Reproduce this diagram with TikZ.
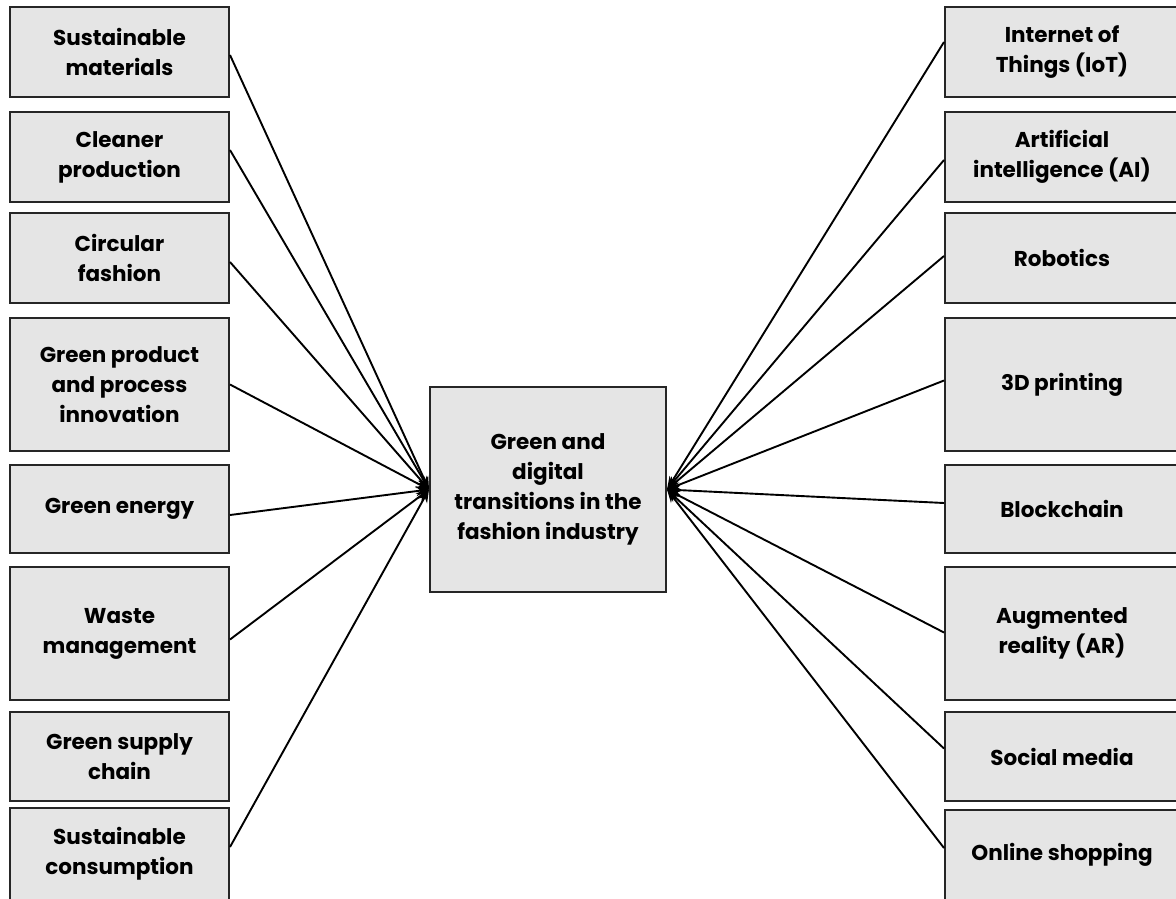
\documentclass[tikz,border=0pt]{standalone}
\usepackage{fontspec}
\setmainfont{Poppins}
\usetikzlibrary{arrows.meta}
\tikzset{
  box/.style={draw=black!85, line width=2pt, fill=black!10, align=center,
    font=\fontsize{21.5}{30}\selectfont\bfseries, inner sep=2pt},
  link/.style={line width=1.9pt, -{Stealth[length=13pt,width=10pt]}},
}
\begin{document}
\begin{tikzpicture}[x=1pt,y=-1pt]
\useasboundingbox (0,0) rectangle (1176,898);
\clip (0,0) rectangle (1176,898);
\fill[white] (0,0) rectangle (1176,898);
% left column
\node[box, minimum width=219pt, minimum height=90pt] (l1) at (119.5,52) {Sustainable\\materials};
\node[box, minimum width=219pt, minimum height=90pt] (l2) at (119.5,157) {Cleaner\\production};
\node[box, minimum width=219pt, minimum height=90pt] (l3) at (119.5,258) {Circular\\fashion};
\node[box, minimum width=219pt, minimum height=133pt] (l4) at (119.5,384.5) {Green product\\and process\\innovation};
\node[box, minimum width=219pt, minimum height=88pt] (l5) at (119.5,509) {Green energy};
\node[box, minimum width=219pt, minimum height=133pt] (l6) at (119.5,633.5) {Waste\\management};
\node[box, minimum width=219pt, minimum height=89pt] (l7) at (119.5,756.5) {Green supply\\chain};
\node[box, minimum width=219pt, minimum height=92pt] (l8) at (119.5,854) {Sustainable\\consumption};
% right column
\node[box, minimum width=234pt, minimum height=90pt] (r1) at (1062,52) {Internet of\\Things (IoT)};
\node[box, minimum width=234pt, minimum height=90pt] (r2) at (1062,157) {Artificial\\intelligence (AI)};
\node[box, minimum width=234pt, minimum height=90pt] (r3) at (1062,258) {Robotics};
\node[box, minimum width=234pt, minimum height=133pt] (r4) at (1062,384.5) {3D printing};
\node[box, minimum width=234pt, minimum height=88pt] (r5) at (1062,509) {Blockchain};
\node[box, minimum width=234pt, minimum height=133pt] (r6) at (1062,633.5) {Augmented\\reality (AR)};
\node[box, minimum width=234pt, minimum height=89pt] (r7) at (1062,756.5) {Social media};
\node[box, minimum width=234pt, minimum height=90pt] (r8) at (1062,855) {Online shopping};
% centre
\node[box, minimum width=236pt, minimum height=205pt] (c) at (548,489.5) {Green and\\digital\\transitions in the\\fashion industry};
% connectors
\draw[link] ([yshift=-3pt]l1.east) -- (c.west);
\draw[link] ([yshift=7pt]l2.east) -- (c.west);
\draw[link] ([yshift=-4pt]l3.east) -- (c.west);
\draw[link] (l4.east) -- (c.west);
\draw[link] ([yshift=-6pt]l5.east) -- (c.west);
\draw[link] ([yshift=-6pt]l6.east) -- (c.west);
\draw[link] ([yshift=7pt]l8.east) -- (c.west);
\draw[link] ([yshift=10pt]r1.west) -- (c.east);
\draw[link] ([yshift=-3pt]r2.west) -- (c.east);
\draw[link] ([yshift=2pt]r3.west) -- (c.east);
\draw[link] ([yshift=4pt]r4.west) -- (c.east);
\draw[link] ([yshift=6pt]r5.west) -- (c.east);
\draw[link] ([yshift=1pt]r6.west) -- (c.east);
\draw[link] ([yshift=8pt]r7.west) -- (c.east);
\draw[link] ([yshift=7pt]r8.west) -- (c.east);
\end{tikzpicture}
\end{document}
